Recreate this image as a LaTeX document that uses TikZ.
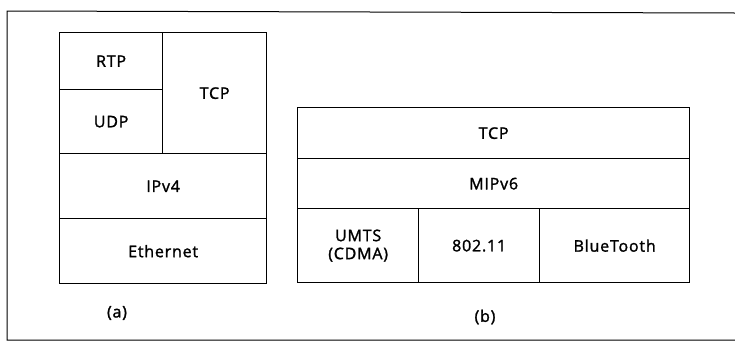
\documentclass[tikz,border=0pt]{standalone}
\usepackage{fontspec}
\setmainfont{Open Sans}
\newfontfamily\lblfont{Open Sans}[FakeBold=1.6,LetterSpace=5]
\begin{document}
\begin{tikzpicture}[x=1pt,y=-1pt,
  cell/.style={draw=black,line width=1.3pt,inner sep=0pt,anchor=north west,font=\lblfont\fontsize{16}{18}\selectfont,align=center},
  sublabel/.style={font=\lblfont\fontsize{16}{18}\selectfont}]
\useasboundingbox (0,0) rectangle (735,354);
\draw[line width=1pt] (735,13) -- (7,11) -- (7,340) -- (735,340);
% (a)
\node[cell,minimum width=103pt,minimum height=57pt] (rtp) at (59,32) {RTP};
\node[cell,minimum width=103pt,minimum height=64pt] (udp) at (59,89) {UDP};
\node[cell,minimum width=104pt,minimum height=121pt] (tcpa) at (162,32) {TCP};
\node[cell,minimum width=207pt,minimum height=65pt] (ipv4) at (59,153) {IPv4};
\node[cell,minimum width=207pt,minimum height=65pt] (eth) at (59,218) {Ethernet};
\node[sublabel] (la) at (117,313) {(a)};
% (b)
\node[cell,minimum width=392pt,minimum height=51pt] (tcpb) at (297,107) {TCP};
\node[cell,minimum width=392pt,minimum height=50pt] (mip) at (297,158) {MIPv6};
\node[cell,minimum width=121pt,minimum height=74pt] (umts) at (297,208) {UMTS\\(CDMA)};
\node[cell,minimum width=121pt,minimum height=74pt] (wifi) at (418,208) {802.11};
\node[cell,minimum width=150pt,minimum height=74pt] (bt) at (539,208) {BlueTooth};
\node[sublabel] (lb) at (485,317) {(b)};
\end{tikzpicture}
\end{document}
